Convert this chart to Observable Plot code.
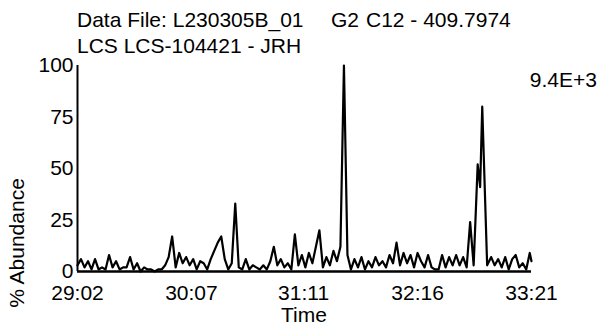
<!DOCTYPE html>
<html>
<head>
<meta charset="utf-8">
<script src="https://cdn.jsdelivr.net/npm/d3@7"></script>
<script src="https://cdn.jsdelivr.net/npm/@observablehq/plot@0.6"></script>
<style>
  html, body { margin: 0; padding: 0; background: #fff; }
  #chart { width: 600px; height: 325px; position: relative; }
</style>
</head>
<body>
<div id="chart"></div>
<script>
// Retention time (seconds) and relative abundance (%)
const times = [
  1742,1744,1746,1748,1750,1752,1754,1756,1758,1760,
  1762,1764,1766,1768,1770,1772,1774,1776,1778,1780,
  1782,1784,1786,1788,1790,1792,1794,1796,1798,1800,
  1802,1804,1806,1808,1810,1812,1814,1816,1818,1820,
  1822,1824,1826,1828,1830,1832,1834,1836,1838,1840,
  1842,1844,1846,1848,1850,1852,1854,1856,1858,1860,
  1862,1864,1866,1868,1870,1872,1874,1876,1878,1880,
  1882,1884,1886,1888,1890,1892,1894,1896,1898,1900,
  1902,1904,1906,1908,1910,1912,1914,1916,1918,1920,
  1922,1924,1926,1928,1930,1932,1934,1936,1938,1940,
  1942,1944,1946,1948,1950,1952,1954,1956,1958,1960,
  1962,1964,1966,1968,1970.3,1971.7,1972.9,1975.7,
  1978,1980,1982,1984,1986,1988,1990,1992,1994,1996,1998,2000,2001
];
const abundance = [
  3,6,2,5,1,6,1,2,1,8,
  2,5,1,2,2,7,1,4,0,2,
  1,1,0,1,1,3,7,17,2,9,
  4,7,3,6,1,5,4,1,6,10,
  14,17,6,1,4,33,2,1,6,1,
  3,2,1,3,1,5,12,3,6,2,
  4,1,18,3,8,2,9,4,12,20,
  2,7,3,10,5,12,100,8,1,6,
  2,7,1,5,2,7,3,5,2,8,
  4,14,3,9,4,8,2,9,5,2,
  8,2,1,1,8,2,7,3,8,3,
  7,2,24,3,52,41,80,3,
  7,3,6,2,7,1,6,8,2,4,1,9,5
];
const xTickLabels = ["29:02", "30:07", "31:11", "32:16", "33:21"];
const yTicks = [0, 25, 50, 75, 100];
const titleLine1 = "Data File: L230305B_01";
const titleLine1b = "G2";
const titleLine1c = "C12 - 409.7974";
const titleLine2 = "LCS LCS-104421 - JRH";
const maxLabel = "9.4E+3";
const yLabel = "% Abundance";
const xLabel = "Time";

const toSec = s => { const [m, ss] = s.split(":").map(Number); return m * 60 + ss; };
const xTicks = xTickLabels.map(toSec);
const fmt = s => { const m = Math.floor(s / 60), r = Math.round(s - m * 60); return m + ":" + String(r).padStart(2, "0"); };

const data = times.map((t, i) => ({t, v: abundance[i]}));
const font = "'Liberation Sans', Arial, sans-serif";

const svg = Plot.plot({
  width: 600,
  height: 325,
  marginTop: 65,
  marginBottom: 54,
  marginLeft: 77,
  marginRight: 69,
  style: {fontFamily: font, fontSize: "21px", background: "#fff", color: "#000", overflow: "visible"},
  x: {domain: [xTicks[0], xTicks[xTicks.length - 1]]},
  y: {domain: [0, 100]},
  marks: [
    Plot.axisX({ticks: xTicks, tickFormat: fmt, tickSize: 0, tickPadding: 14, label: null, fontSize: 21}),
    Plot.axisY({ticks: yTicks, tickSize: 0, tickPadding: 4, label: null, fontSize: 21, dy: 0}),
    Plot.line(data, {x: "t", y: "v", stroke: "#000", strokeWidth: 2.2}),
    Plot.ruleX([xTicks[0]], {stroke: "#000", strokeWidth: 2}),
    Plot.ruleY([0], {stroke: "#000", strokeWidth: 2.5})
  ]
});

const s = d3.select(svg);
const addText = (txt, x, y, anchor, extra) => {
  const el = s.append("text").attr("x", x).attr("y", y)
    .attr("text-anchor", anchor || "start")
    .attr("font-family", font).attr("font-size", 21).attr("fill", "#000")
    .text(txt);
  if (extra) extra(el);
  return el;
};
addText(titleLine1, 77, 27);
addText(titleLine1b, 331, 27);
addText(titleLine1c, 366, 27);
addText(titleLine2, 77, 53);
addText(maxLabel, 597, 87, "end");
addText(xLabel, 304, 322, "middle");
addText(yLabel, 0, 0, "middle", el => el.attr("transform", "translate(24,243) rotate(-90)"));

document.getElementById("chart").appendChild(svg);
</script>
</body>
</html>
